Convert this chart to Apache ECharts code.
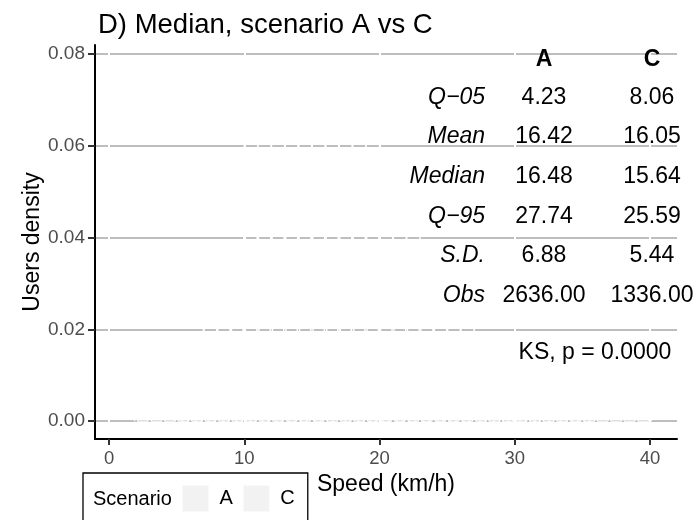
<!DOCTYPE html>
<html>
<head>
<meta charset="utf-8">
<script src="https://cdn.jsdelivr.net/npm/echarts@6/dist/echarts.min.js"></script>
<style>
html, body { margin: 0; padding: 0; background: #fff; }
#main { width: 697px; height: 520px; }
</style>
</head>
<body>
<div id="main"></div>
<script>
// speeds are rounded to whole km/h, so the density is a comb of spikes (drawn white)
var speedA = [2,3,4,5,6,7,8,9,10,11,12,13,14,15,16,17,18,19,20,21,22,23,24,25,26,27,28,29,30,31,32,33,34,35,36,37,38,39,40];
var densA = [0.004,0.007,0.011,0.015,0.0195,0.025,0.031,0.037,0.063,0.065,0.067,0.070,0.073,0.076,0.078,0.075,0.071,0.067,0.063,0.054,0.047,0.042,0.036,0.030,0.025,0.022,0.016,0.012,0.009,0.007,0.005,0.004,0.003,0.002,0.002,0.001,0.001,0.001,0.001];
var speedC = [5,6,7,8,9,10,11,12,13,14,15,16,17,18,19,20,21,22,23,24,25,26,27,28,29,30,31,32,33,34,35,36];
var densC = [0.003,0.008,0.014,0.021,0.029,0.042,0.052,0.061,0.067,0.071,0.074,0.073,0.069,0.063,0.056,0.048,0.040,0.033,0.027,0.021,0.016,0.012,0.009,0.006,0.004,0.003,0.002,0.002,0.001,0.001,0.001,0.001];

var xBreaks = [0, 10, 20, 30, 40];
var yBreaks = [0, 0.02, 0.04, 0.06, 0.08];

var scenarios = ['A', 'C'];
var statNames = ['Q\u221205', 'Mean', 'Median', 'Q\u221295', 'S.D.', 'Obs'];
var statA = ['4.23', '16.42', '16.48', '27.74', '6.88', '2636.00'];
var statC = ['8.06', '16.05', '15.64', '25.59', '5.44', '1336.00'];
var ksLabel = 'KS, p = 0.0000';

var FONT = "'Liberation Sans', Arial, sans-serif";

function spikes(xs, ys) {
    var pts = [];
    xs.forEach(function (x, i) {
        pts.push([x - 0.12, 0], [x, ys[i]], [x + 0.12, 0]);
    });
    return pts;
}

function txt(x, y, s, align, extra) {
    var style = {
        text: s, x: x, y: y, fill: '#000', fontSize: 23, fontFamily: FONT,
        align: align, verticalAlign: 'middle',
        textAlign: align, textVerticalAlign: 'middle'
    };
    for (var k in extra) style[k] = extra[k];
    return { type: 'text', z: 100, silent: true, style: style };
}

// stats table drawn over the panel
var colX = [544, 652];
var graphics = [];
graphics.push(txt(colX[0], 60, scenarios[0], 'center', { fontWeight: 'bold' }));
graphics.push(txt(colX[1], 60, scenarios[1], 'center', { fontWeight: 'bold' }));
statNames.forEach(function (nm, i) {
    var y = 97.5 + i * 39.6;
    graphics.push(txt(485, y, nm, 'right', { fontStyle: 'italic' }));
    graphics.push(txt(colX[0], y, statA[i], 'center'));
    graphics.push(txt(colX[1], y, statC[i], 'center'));
});
graphics.push(txt(595, 353, ksLabel, 'center'));
graphics.push(txt(93, 499, 'Scenario', 'left', { fontSize: 20 }));
// y axis title
graphics.push({
    type: 'text', z: 100, silent: true, x: 32.5, y: 242, rotation: Math.PI / 2,
    style: {
        text: 'Users density', fill: '#000', fontSize: 23, fontFamily: FONT,
        align: 'center', verticalAlign: 'middle', textAlign: 'center', textVerticalAlign: 'middle'
    }
});

var myChart = echarts.init(document.getElementById('main'));
myChart.setOption({
    animation: false,
    backgroundColor: '#fff',
    title: {
        text: 'D) Median, scenario A vs C',
        left: 93,
        top: 6,
        textStyle: { fontSize: 27.5, fontWeight: 'normal', color: '#000', fontFamily: FONT }
    },
    grid: { left: 95, right: 20, top: 45, bottom: 81 },
    legend: {
        left: 83,
        top: 473,
        data: scenarios.map(function (s) {
            return { name: s, itemStyle: { color: '#f2f2f2', borderColor: '#fafafa', borderWidth: 1 } };
        }),
        icon: 'rect',
        itemWidth: 26,
        itemHeight: 26,
        itemGap: 10,
        padding: [12, 13, 20, 99],
        borderColor: '#000',
        borderWidth: 1.3,
        selectedMode: false,
        textStyle: { fontSize: 20, color: '#000', fontFamily: FONT, padding: [0, 0, 0, 6] }
    },
    xAxis: [
        {
            type: 'value', min: -1.04, max: 42, z: 3,
            axisLine: { show: true, onZero: false, lineStyle: { color: '#000', width: 2 } },
            axisTick: { show: true, customValues: xBreaks, length: 6, lineStyle: { color: '#333', width: 2 } },
            axisLabel: { customValues: xBreaks, margin: 10, fontSize: 18.5, color: '#4d4d4d', fontFamily: FONT },
            splitLine: { show: false },
            name: 'Speed (km/h)', nameLocation: 'middle', nameGap: 30,
            nameTextStyle: { fontSize: 23, color: '#000', fontFamily: FONT }
        },
        {
            type: 'value', min: -1.04, max: 42, z: 1,
            axisLine: { show: false }, axisTick: { show: false }, axisLabel: { show: false },
            splitLine: { show: true, showMinLine: false, showMaxLine: false, lineStyle: { color: '#fff', width: 2 } }
        }
    ],
    yAxis: [
        {
            type: 'value', min: -0.0039, max: 0.082, z: 3,
            axisLine: { show: true, onZero: false, lineStyle: { color: '#000', width: 2 } },
            axisTick: { show: true, customValues: yBreaks, length: 7, lineStyle: { color: '#333', width: 2 } },
            axisLabel: {
                customValues: yBreaks, margin: 10, fontSize: 19, color: '#4d4d4d', fontFamily: FONT,
                formatter: function (v) { return v.toFixed(2); }
            },
            splitLine: { show: false }
        },
        {
            type: 'value', min: -0.0039, max: 0.082, z: 0,
            axisLine: { show: false }, axisTick: { show: false }, axisLabel: { show: false },
            splitLine: { show: true, showMinLine: false, showMaxLine: false, lineStyle: { color: '#bebebe', width: 1.8 } }
        }
    ],
    graphic: graphics,
    series: [
        {
            name: 'A', type: 'line', data: spikes(speedA, densA),
            symbol: 'none', silent: true, z: 2,
            lineStyle: { color: '#fff', width: 1.4 }, itemStyle: { color: '#fff' }
        },
        {
            name: 'C', type: 'line', data: spikes(speedC, densC),
            symbol: 'none', silent: true, z: 2,
            lineStyle: { color: '#fff', width: 1.4, type: [3, 3] }, itemStyle: { color: '#fff' }
        }
    ]
});
</script>
</body>
</html>
